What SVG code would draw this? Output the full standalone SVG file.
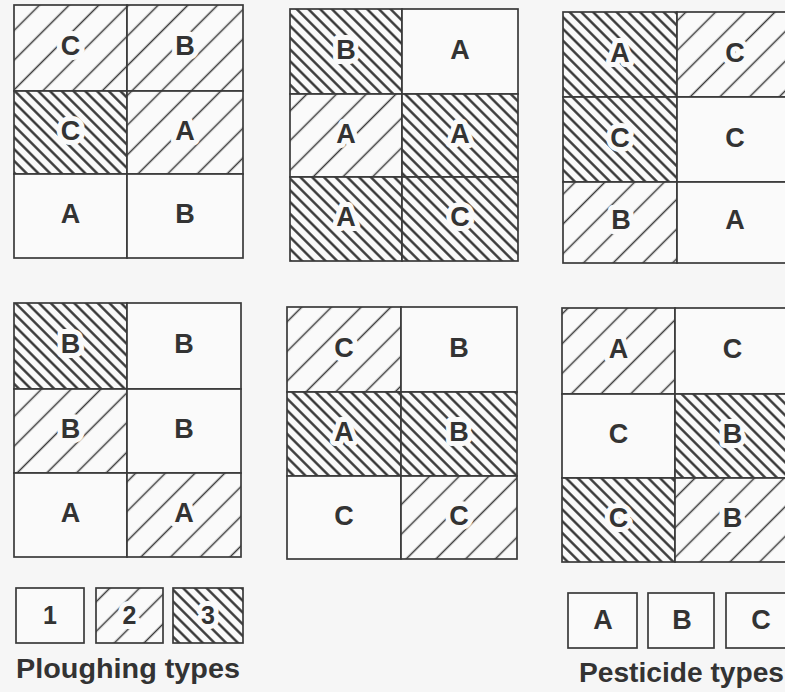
<svg xmlns="http://www.w3.org/2000/svg" width="785" height="692" viewBox="0 0 785 692">
<style>
rect.cell{stroke:#3a3a3a;stroke-width:1.7}
.c1{fill:#fafafa}
.c2{fill:url(#p2)}
.c3{fill:url(#p3)}
text.t{font-family:"Liberation Sans",Arial,sans-serif;font-weight:bold;font-size:27px;fill:#333;text-anchor:middle;stroke:#fafafa;stroke-width:10px;stroke-linejoin:round;paint-order:stroke}
text.n{font-size:25px}
text.title{font-family:"Liberation Sans",Arial,sans-serif;font-weight:bold;font-size:27px;fill:#333}
</style>
<defs>
<pattern id="p2" patternUnits="userSpaceOnUse" width="60" height="21" patternTransform="rotate(-45)">
<rect width="60" height="21" fill="#fafafa"/>
<line x1="0" y1="10.5" x2="60" y2="10.5" stroke="#3a3a3a" stroke-width="1.4"/>
</pattern>
<pattern id="p3" patternUnits="userSpaceOnUse" width="40" height="8.3" patternTransform="rotate(45)">
<rect width="40" height="8.3" fill="#fafafa"/>
<line x1="0" y1="4.15" x2="40" y2="4.15" stroke="#2e2e2e" stroke-width="2.1"/>
</pattern>
</defs>
<rect width="785" height="692" fill="#f6f6f6"/>

<g id="block1">
<g id="b1r1c1"><rect class="cell c2" x="14" y="5" width="113" height="86"/><text class="t" x="70.5" y="55">C</text></g>
<g id="b1r1c2"><rect class="cell c2" x="127" y="5" width="116" height="86"/><text class="t" x="185" y="55">B</text></g>
<g id="b1r2c1"><rect class="cell c3" x="14" y="91" width="113" height="83"/><text class="t" x="70.5" y="139.5">C</text></g>
<g id="b1r2c2"><rect class="cell c2" x="127" y="91" width="116" height="83"/><text class="t" x="185" y="139.5">A</text></g>
<g id="b1r3c1"><rect class="cell c1" x="14" y="174" width="113" height="84"/><text class="t" x="70.5" y="223">A</text></g>
<g id="b1r3c2"><rect class="cell c1" x="127" y="174" width="116" height="84"/><text class="t" x="185" y="223">B</text></g>
</g>

<g id="block2">
<g id="b2r1c1"><rect class="cell c3" x="290" y="9" width="112" height="85"/><text class="t" x="346" y="58.5">B</text></g>
<g id="b2r1c2"><rect class="cell c1" x="402" y="9" width="116" height="85"/><text class="t" x="460" y="58.5">A</text></g>
<g id="b2r2c1"><rect class="cell c2" x="290" y="94" width="112" height="83"/><text class="t" x="346" y="142.5">A</text></g>
<g id="b2r2c2"><rect class="cell c3" x="402" y="94" width="116" height="83"/><text class="t" x="460" y="142.5">A</text></g>
<g id="b2r3c1"><rect class="cell c3" x="290" y="177" width="112" height="84"/><text class="t" x="346" y="226">A</text></g>
<g id="b2r3c2"><rect class="cell c3" x="402" y="177" width="116" height="84"/><text class="t" x="460" y="226">C</text></g>
</g>

<g id="block3">
<g id="b3r1c1"><rect class="cell c3" x="563" y="12" width="114" height="85"/><text class="t" x="620" y="61.5">A</text></g>
<g id="b3r1c2"><rect class="cell c2" x="677" y="12" width="114" height="85"/><text class="t" x="735" y="61.5">C</text></g>
<g id="b3r2c1"><rect class="cell c3" x="563" y="97" width="114" height="85"/><text class="t" x="620" y="146.5">C</text></g>
<g id="b3r2c2"><rect class="cell c1" x="677" y="97" width="114" height="85"/><text class="t" x="735" y="146.5">C</text></g>
<g id="b3r3c1"><rect class="cell c2" x="563" y="182" width="114" height="81"/><text class="t" x="621" y="228.5">B</text></g>
<g id="b3r3c2"><rect class="cell c1" x="677" y="182" width="114" height="81"/><text class="t" x="735" y="228.5">A</text></g>
</g>

<g id="block4">
<g id="b4r1c1"><rect class="cell c3" x="14" y="303" width="113" height="86"/><text class="t" x="70.5" y="353">B</text></g>
<g id="b4r1c2"><rect class="cell c1" x="127" y="303" width="114" height="86"/><text class="t" x="184" y="353">B</text></g>
<g id="b4r2c1"><rect class="cell c2" x="14" y="389" width="113" height="84"/><text class="t" x="70.5" y="438">B</text></g>
<g id="b4r2c2"><rect class="cell c1" x="127" y="389" width="114" height="84"/><text class="t" x="184" y="438">B</text></g>
<g id="b4r3c1"><rect class="cell c1" x="14" y="473" width="113" height="84"/><text class="t" x="70.5" y="522">A</text></g>
<g id="b4r3c2"><rect class="cell c2" x="127" y="473" width="114" height="84"/><text class="t" x="184" y="522">A</text></g>
</g>

<g id="block5">
<g id="b5r1c1"><rect class="cell c2" x="287" y="307" width="114" height="85"/><text class="t" x="344" y="356.5">C</text></g>
<g id="b5r1c2"><rect class="cell c1" x="401" y="307" width="116" height="85"/><text class="t" x="459" y="356.5">B</text></g>
<g id="b5r2c1"><rect class="cell c3" x="287" y="392" width="114" height="84"/><text class="t" x="344" y="441">A</text></g>
<g id="b5r2c2"><rect class="cell c3" x="401" y="392" width="116" height="84"/><text class="t" x="459" y="441">B</text></g>
<g id="b5r3c1"><rect class="cell c1" x="287" y="476" width="114" height="83"/><text class="t" x="344" y="524.5">C</text></g>
<g id="b5r3c2"><rect class="cell c2" x="401" y="476" width="116" height="83"/><text class="t" x="459" y="524.5">C</text></g>
</g>

<g id="block6">
<g id="b6r1c1"><rect class="cell c2" x="562" y="308" width="113" height="86"/><text class="t" x="618.5" y="358">A</text></g>
<g id="b6r1c2"><rect class="cell c1" x="675" y="308" width="115" height="86"/><text class="t" x="732.5" y="358">C</text></g>
<g id="b6r2c1"><rect class="cell c1" x="562" y="394" width="113" height="84"/><text class="t" x="618.5" y="443">C</text></g>
<g id="b6r2c2"><rect class="cell c3" x="675" y="394" width="115" height="84"/><text class="t" x="732.5" y="443">B</text></g>
<g id="b6r3c1"><rect class="cell c3" x="562" y="478" width="113" height="84"/><text class="t" x="618.5" y="527">C</text></g>
<g id="b6r3c2"><rect class="cell c2" x="675" y="478" width="115" height="84"/><text class="t" x="732.5" y="527">B</text></g>
</g>

<g id="legend-ploughing">
<g id="plough1"><rect class="cell c1" x="16" y="588" width="68" height="55"/><text class="t n" x="50" y="624">1</text></g>
<g id="plough2"><rect class="cell c2" x="96" y="588" width="67" height="55"/><text class="t n" x="129.5" y="624">2</text></g>
<g id="plough3"><rect class="cell c3" x="173" y="588" width="70" height="55"/><text class="t n" x="208" y="624">3</text></g>
<text class="title" x="16" y="678" textLength="224" lengthAdjust="spacingAndGlyphs">Ploughing types</text>
</g>

<g id="legend-pesticide">
<g id="pestA"><rect class="cell c1" x="568" y="593" width="69" height="55"/><text class="t" x="603" y="629">A</text></g>
<g id="pestB"><rect class="cell c1" x="648" y="593" width="66" height="55"/><text class="t" x="682" y="629">B</text></g>
<g id="pestC"><rect class="cell c1" x="726" y="593" width="68" height="55"/><text class="t" x="761" y="629">C</text></g>
<text class="title" x="579" y="682" textLength="205" lengthAdjust="spacingAndGlyphs">Pesticide types</text>
</g>

<g id="connectors"/>
</svg>
